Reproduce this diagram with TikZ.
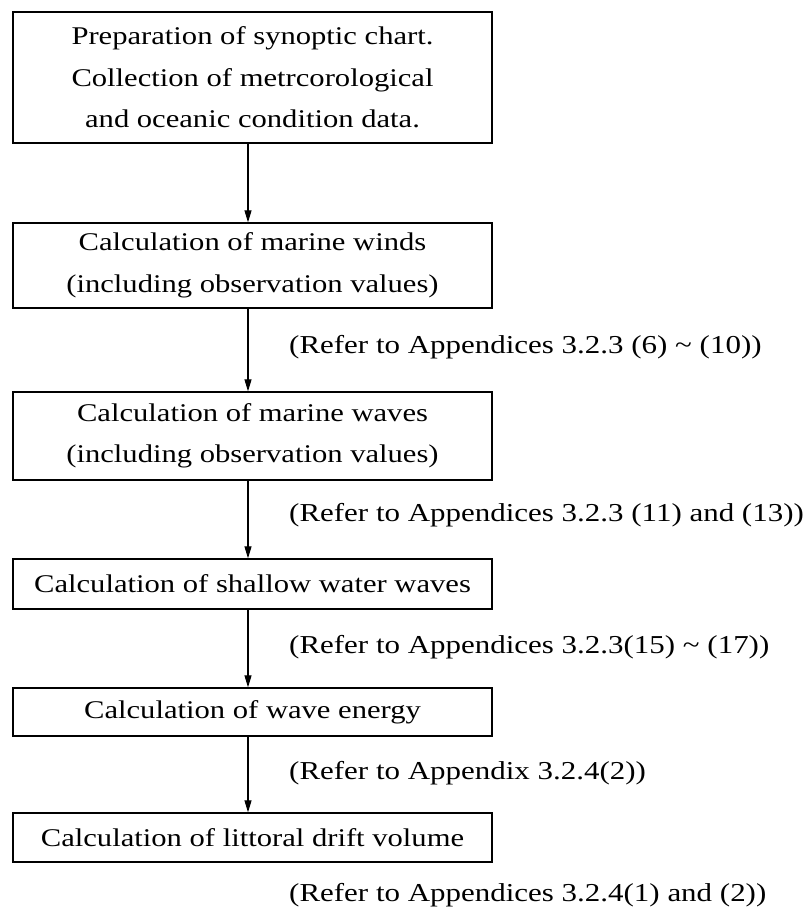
\documentclass[tikz,border=0pt]{standalone}
\usepackage{fontspec}
\setmainfont{Liberation Serif}[FakeStretch=1.2]
\usepackage{xcolor}
\usetikzlibrary{arrows.meta}

\tikzset{
    stepbox/.style={draw, line width=1.3pt, minimum width=479pt, align=center, inner sep=0pt,
        font=\fontsize{25.5}{41.5}\selectfont},
    refnote/.style={anchor=west, inner sep=0pt, font=\fontsize{25.8}{30}\selectfont},
    flowarrow/.style={-{Triangle[length=12pt,width=7pt]}, line width=1.1pt}
}

\begin{document}
\begin{tikzpicture}[x=1pt, y=-1pt]
    \useasboundingbox (0,0) rectangle (807,910);

    % boxes
    \node[stepbox, minimum height=131pt] (chart) at (252.5,77.5)
        {Preparation of synoptic chart.\\Collection of metrcorological\\and oceanic condition data.};
    \node[stepbox, minimum height=85pt] (winds) at (252.5,265.5)
        {Calculation of marine winds\\(including observation values)};
    \node[stepbox, minimum height=88pt] (waves) at (252.5,436)
        {Calculation of marine waves\\(including observation values)};
    \node[stepbox, minimum height=50pt] (shallow) at (252.5,584)
        {Calculation of shallow water waves};
    \node[stepbox, minimum height=48pt] (energy) at (252.5,712)
        {Calculation of wave energy};
    \node[stepbox, minimum height=49pt] (drift) at (252.5,837.5)
        {Calculation of littoral drift volume};

    % arrows
    \draw[flowarrow] (chart.south -| 248,0) -- (winds.north -| 248,0);
    \draw[flowarrow] (winds.south -| 248,0) -- (waves.north -| 248,0);
    \draw[flowarrow] (waves.south -| 248,0) -- (shallow.north -| 248,0);
    \draw[flowarrow] (shallow.south -| 248,0) -- (energy.north -| 248,0);
    \draw[flowarrow] (energy.south -| 248,0) -- (drift.north -| 248,0);

    % references
    \node[refnote] (refwinds) at (289,347) {(Refer to Appendices 3.2.3 (6) \textasciitilde{} (10))};
    \node[refnote] (refwaves) at (289,515) {(Refer to Appendices 3.2.3 (11) and (13))};
    \node[refnote] (refshallow) at (289,647) {(Refer to Appendices 3.2.3(15) \textasciitilde{} (17))};
    \node[refnote] (refenergy) at (289,773) {(Refer to Appendix 3.2.4(2))};
    \node[refnote] (refdrift) at (289,895) {(Refer to Appendices 3.2.4(1) and (2))};
\end{tikzpicture}
\end{document}
